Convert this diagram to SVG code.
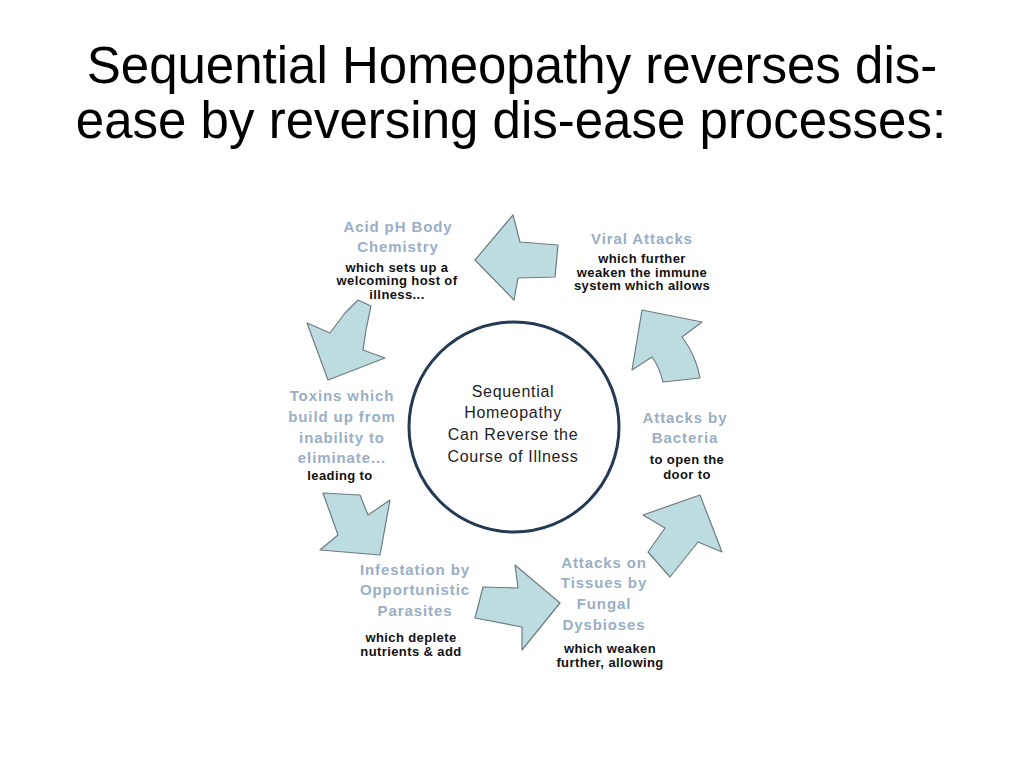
<svg xmlns="http://www.w3.org/2000/svg" width="1024" height="768" viewBox="0 0 1024 768">
<style>
.title{font-family:"Liberation Sans",Arial,sans-serif;font-size:51px;fill:#000;text-anchor:middle}
.blue{font-family:"Liberation Sans",Arial,sans-serif;font-weight:bold;font-size:15px;fill:#9aaec6;text-anchor:middle;letter-spacing:0.9px}
.blk{font-family:"Liberation Sans",Arial,sans-serif;font-weight:bold;font-size:13px;fill:#111;text-anchor:middle;letter-spacing:0.4px}
.ctr{font-family:"Liberation Sans",Arial,sans-serif;font-size:16px;fill:#222;text-anchor:middle;letter-spacing:0.7px}
.arr{fill:#bcdcdf;stroke:#6e7c80;stroke-width:1.2;stroke-linejoin:round}
</style>
<rect width="1024" height="768" fill="#fff"/>
<g id="title">
<text class="title" x="512" y="83">Sequential Homeopathy reverses dis-</text>
<text class="title" x="511" y="138">ease by reversing dis-ease processes:</text>
</g>
<g id="center">
<circle cx="514" cy="427" r="105" fill="#fff" stroke="#243a52" stroke-width="3"/>
<text class="ctr" x="513" y="397">Sequential</text>
<text class="ctr" x="513" y="418">Homeopathy</text>
<text class="ctr" x="513" y="440">Can Reverse the</text>
<text class="ctr" x="513" y="462">Course of Illness</text>
</g>
<g id="acid">
<text class="blue" x="398" y="232">Acid pH Body</text>
<text class="blue" x="398" y="252">Chemistry</text>
<text class="blk" x="397" y="272">which sets up a</text>
<text class="blk" x="397" y="285">welcoming host of</text>
<text class="blk" x="397" y="299">illness...</text>
</g>
<g id="viral">
<text class="blue" x="642" y="244">Viral Attacks</text>
<text class="blk" x="642" y="263">which further</text>
<text class="blk" x="642" y="277">weaken the immune</text>
<text class="blk" x="642" y="290">system which allows</text>
</g>
<g id="toxins">
<text class="blue" x="342" y="401">Toxins which</text>
<text class="blue" x="342" y="422">build up from</text>
<text class="blue" x="342" y="443">inability to</text>
<text class="blue" x="342" y="463">eliminate...</text>
<text class="blk" x="340" y="480">leading to</text>
</g>
<g id="bacteria">
<text class="blue" x="685" y="423">Attacks by</text>
<text class="blue" x="685" y="443">Bacteria</text>
<text class="blk" x="687" y="464">to open the</text>
<text class="blk" x="687" y="479">door to</text>
</g>
<g id="parasites">
<text class="blue" x="415" y="575">Infestation by</text>
<text class="blue" x="415" y="595">Opportunistic</text>
<text class="blue" x="415" y="616">Parasites</text>
<text class="blk" x="411" y="642">which deplete</text>
<text class="blk" x="411" y="656">nutrients &amp; add</text>
</g>
<g id="fungal">
<text class="blue" x="604" y="568">Attacks on</text>
<text class="blue" x="604" y="588">Tissues by</text>
<text class="blue" x="604" y="609">Fungal</text>
<text class="blue" x="604" y="630">Dysbioses</text>
<text class="blk" x="610" y="653">which weaken</text>
<text class="blk" x="610" y="667">further, allowing</text>
</g>
<g id="connectors">
<polygon class="arr" points="475,260 513,215 520,242 558,245 555,277 518,278 514,300"/>
<polygon class="arr" points="328,380 307,323 330,333 345,313 358,300 371,306 366,330 363,350 385,358"/>
<polygon class="arr" points="323,493 360,495 368,515 390,500 380,555 320,550 338,535"/>
<polygon class="arr" points="560,603 522,650 522,627 475,618 483,587 518,588 515,565"/>
<polygon class="arr" points="700,495 722,552 698,542 670,577 648,552 665,528 643,515"/>
<path class="arr" d="M642,310 L702,322 L682,337 Q696,355 700,378 L663,382 Q659,366 652,357 L632,370 Z"/>
</g>
</svg>
